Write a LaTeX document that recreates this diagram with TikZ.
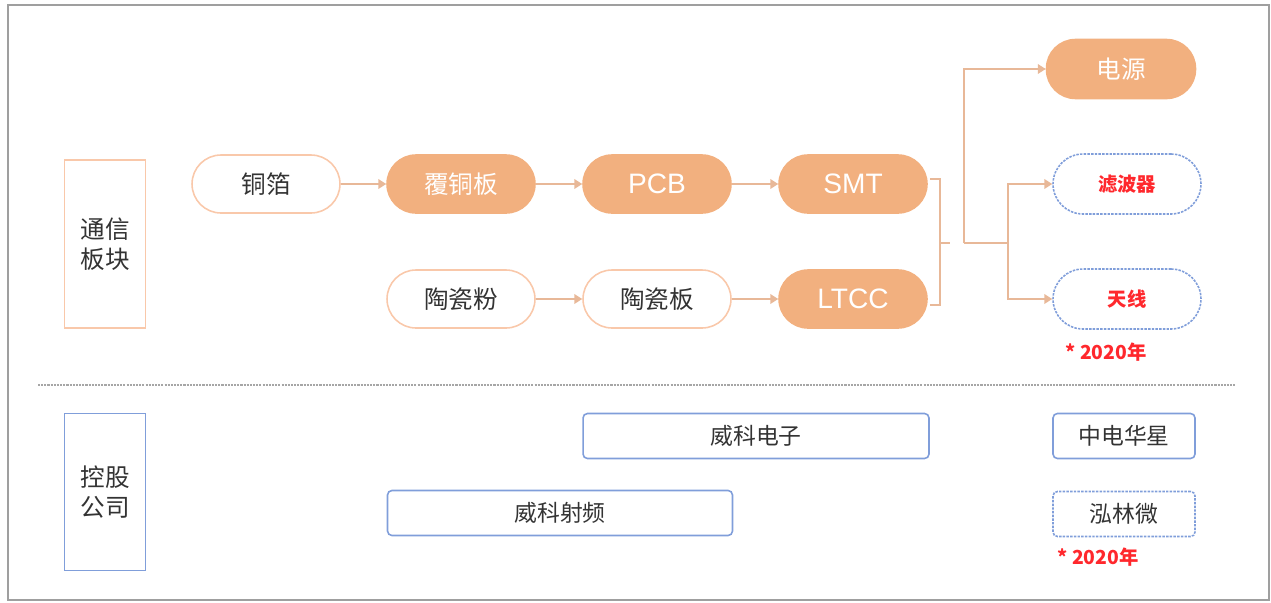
\documentclass[tikz,border=0pt]{standalone}
\usepackage{fontspec}
\setmainfont{Noto Sans CJK SC}
\newfontfamily\latinsans{Liberation Sans}
\usepackage{tikz}
\usetikzlibrary{arrows.meta}
\definecolor{peach}{RGB}{249,200,170}
\definecolor{orangefill}{RGB}{242,176,127}
\definecolor{linkcol}{RGB}{232,184,152}
\definecolor{bluebox}{RGB}{128,158,218}
\definecolor{notered}{RGB}{255,40,45}
\tikzset{
    pill/.style={draw=peach, line width=0.9pt, rounded corners=0.58cm,
        minimum width=2.96cm, minimum height=1.16cm, text=black!80,
        font=\fontsize{14}{16}\selectfont},
    pillfill/.style={pill, fill=orangefill, draw=orangefill, text=white},
    pilllatin/.style={pillfill, font=\latinsans\fontsize{16}{18}\selectfont},
    pilldash/.style={pill, draw=bluebox, dash pattern=on 1.4pt off 0.7pt,
        minimum height=1.2cm, rounded corners=0.6cm, text=notered,
        font=\bfseries\fontsize{11}{13}\selectfont},
    sidebox/.style={draw=#1, line width=0.9pt, minimum width=1.62cm,
        align=center, text=black!80, font=\fontsize{14}{17}\selectfont},
    firm/.style={draw=bluebox, line width=0.9pt, rounded corners=2.5pt,
        minimum height=0.9cm, text=black!80, font=\fontsize{13}{15}\selectfont},
    link/.style={draw=linkcol, line width=0.85pt},
    note/.style={text=notered, font=\bfseries\fontsize{11}{13}\selectfont, inner sep=0pt},
}

\begin{document}
\begin{tikzpicture}[x=0.02cm, y=-0.02cm, >={Triangle[width=5.5pt,length=4.5pt]}]
    \useasboundingbox (0,0) rectangle (1271,602);
    \draw[gray!75, line width=1.1pt] (8,5) rectangle (1269,600);
    % upper part
    \node[sidebox=peach, minimum height=3.36cm] (board) at (105,244) {通信\\板块};
    \node[pill] (foil) at (266,184) {铜箔};
    \node[pillfill] (ccl) at (461,184) {覆铜板};
    \node[pilllatin] (pcb) at (657,184) {PCB};
    \node[pilllatin] (smt) at (853,184) {SMT};
    \node[pill] (powder) at (461,299) {陶瓷粉};
    \node[pill] (plate) at (657,299) {陶瓷板};
    \node[pilllatin] (ltcc) at (853,299) {LTCC};
    \node[pillfill, minimum width=2.98cm, minimum height=1.18cm] (power) at (1121,69) {电源};
    \node[pilldash] (filter) at (1127,184) {滤波器};
    \node[pilldash] (antenna) at (1127,299) {天线};
    \node[note] (note1) at (1106,352) {* 2020年};
    \draw[link,->] (foil) -- (ccl);
    \draw[link,->] (ccl) -- (pcb);
    \draw[link,->] (pcb) -- (smt);
    \draw[link,->] (powder) -- (plate);
    \draw[link,->] (plate) -- (ltcc);
    \draw[link] (930,179) -| (940,305) -- (930,305);
    \coordinate (brk) at (950,243);
    \coordinate (fork) at (964,243);
    \coordinate (split) at (1008,243);
    \draw[link] (940,243) -- (brk);
    \draw[link,->] (fork) |- (power);
    \draw[link] (fork) -- (split);
    \draw[link,->] (split) |- (filter);
    \draw[link,->] (split) |- (antenna);
    % separator
    \draw[gray!70, line width=1.2pt, dash pattern=on 1.2pt off 0.6pt] (38,385) -- (1235,385);
    % lower part
    \node[sidebox=bluebox, minimum height=3.14cm] (holding) at (105,492) {控股\\公司};
    \node[firm, minimum width=6.92cm] (wkdz) at (756,436) {威科电子};
    \node[firm, minimum width=6.9cm] (wksp) at (560,513) {威科射频};
    \node[firm, minimum width=2.84cm] (zdhx) at (1124,436) {中电华星};
    \node[firm, minimum width=2.84cm, dash pattern=on 1.4pt off 0.7pt] (hlw) at (1124,514) {泓林微};
    \node[note] (note2) at (1098,557) {* 2020年};
\end{tikzpicture}
\end{document}
